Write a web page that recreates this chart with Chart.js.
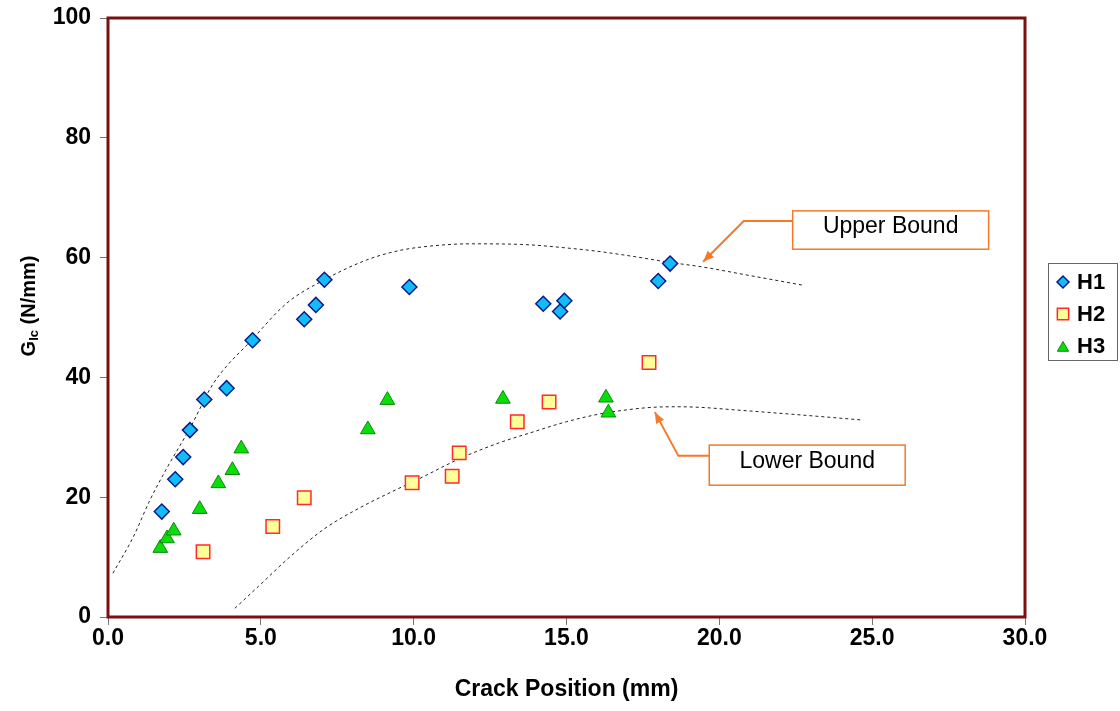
<!DOCTYPE html>
<html>
<head>
<meta charset="utf-8">
<script src="https://cdn.jsdelivr.net/npm/chart.js@4.4.1/dist/chart.umd.min.js"></script>
<style>
  html, body { margin: 0; padding: 0; background: #fff; }
  #wrap { width: 1120px; height: 711px; position: relative; }
</style>
</head>
<body>
<div id="wrap"><canvas id="glcChart"></canvas></div>
<script>
// measured values
const h1X = [1.76, 2.20, 2.46, 2.68, 3.15, 3.88, 4.73, 6.42, 6.80, 7.08, 9.86, 14.24, 14.79, 14.93, 18.0, 18.39];
const h1Y = [17.6, 23.0, 26.7, 31.2, 36.3, 38.2, 46.2, 49.7, 52.1, 56.3, 55.1, 52.3, 51.0, 52.8, 56.1, 59.0];

const h2X = [3.11, 5.39, 6.42, 9.95, 11.26, 11.49, 13.39, 14.43, 17.70];
const h2Y = [10.9, 15.1, 19.9, 22.4, 23.5, 27.4, 32.6, 35.9, 42.5];

const h3X = [1.71, 1.93, 2.15, 3.0, 3.61, 4.07, 4.36, 8.5, 9.14, 12.92, 16.29, 16.37];
const h3Y = [11.5, 13.1, 14.4, 18.0, 22.3, 24.5, 28.1, 31.3, 36.2, 36.4, 36.6, 34.1];

const upperX = [0.16, 0.83, 1.37, 1.92, 2.68, 3.45, 4.73, 5.85, 7.08, 8.46, 9.55, 10.7, 11.84, 13.5, 15.22, 16.1, 17.3, 18.38, 19.37, 21.0, 22.72];
const upperY = [7.3, 13.4, 19.5, 24.8, 31.5, 39.0, 46.4, 52.4, 56.3, 59.6, 61.2, 62.0, 62.3, 62.2, 61.5, 61.0, 60.1, 59.2, 58.5, 57.0, 55.4];

const lowerX = [4.15, 4.92, 6.01, 7.10, 8.19, 9.28, 10.15, 11.49, 12.7, 13.91, 15.0, 16.09, 17.0, 17.8, 18.6, 19.37, 20.45, 22.5, 24.65];
const lowerY = [1.45, 5.1, 10.3, 14.8, 18.1, 20.9, 23.0, 26.4, 28.9, 30.9, 32.6, 33.9, 34.6, 35.0, 35.1, 35.0, 34.6, 33.8, 32.9];

const xTicks = [0, 5, 10, 15, 20, 25, 30];
const yTicks = [0, 20, 40, 60, 80, 100];

function pts(xs, ys) {
  return xs.map((x, i) => ({ x: x, y: ys[i] }))
}

const FONT = '"Liberation Sans", Arial, sans-serif';

// frame, y title, callouts and legend
const extras = {
  id: 'extras',
  afterDraw(chart) {
    const ctx = chart.ctx;
    const a = chart.chartArea;
    const xs = chart.scales.x, ys = chart.scales.y;
    const px = v => xs.getPixelForValue(v);
    const py = v => ys.getPixelForValue(v);

    ctx.save();
    // plot frame
    ctx.strokeStyle = '#7a1010';
    ctx.lineWidth = 3;
    ctx.strokeRect(a.left, a.top, a.right - a.left, a.bottom - a.top);

    // y axis title with subscript
    ctx.translate(29, 306);
    ctx.rotate(-Math.PI / 2);
    ctx.fillStyle = '#000';
    ctx.textBaseline = 'middle';
    ctx.font = 'bold 20px ' + FONT;
    const gW = ctx.measureText('G').width;
    ctx.font = 'bold 13px ' + FONT;
    const subW = ctx.measureText('Ic').width;
    ctx.font = 'bold 20px ' + FONT;
    const restW = ctx.measureText(' (N/mm)').width;
    let sx = -(gW + subW + restW) / 2;
    ctx.textAlign = 'left';
    ctx.fillText('G', sx, 0);
    ctx.font = 'bold 13px ' + FONT;
    ctx.fillText('Ic', sx + gW, 5);
    ctx.font = 'bold 20px ' + FONT;
    ctx.fillText(' (N/mm)', sx + gW + subW, 0);
    ctx.setTransform(1, 0, 0, 1, 0, 0);

    // callouts (positions in data units)
    function callout(label, box, elbow, tip) {
      const l = px(box[0]), r = px(box[1]), t = py(box[2]), b = py(box[3]);
      ctx.fillStyle = '#fff';
      ctx.fillRect(l, t, r - l, b - t);
      ctx.strokeStyle = '#f47a2a';
      ctx.lineWidth = 1.5;
      ctx.strokeRect(l, t, r - l, b - t);
      ctx.fillStyle = '#000';
      ctx.font = '23px ' + FONT;
      ctx.textAlign = 'center';
      ctx.textBaseline = 'middle';
      ctx.fillText(label, (l + r) / 2, (t + b) / 2 - 3);

      const ex = px(elbow[0]), ey = py(elbow[1]);
      const tx = px(tip[0]), ty = py(tip[1]);
      ctx.strokeStyle = '#f47a2a';
      ctx.lineWidth = 2;
      ctx.beginPath();
      ctx.moveTo(l, ey);
      ctx.lineTo(ex, ey);
      ctx.lineTo(tx, ty);
      ctx.stroke();
      // arrow head
      const ang = Math.atan2(ty - ey, tx - ex);
      const hl = 11, hw = 4.5;
      ctx.fillStyle = '#f47a2a';
      ctx.beginPath();
      ctx.moveTo(tx, ty);
      ctx.lineTo(tx - hl * Math.cos(ang) + hw * Math.sin(ang), ty - hl * Math.sin(ang) - hw * Math.cos(ang));
      ctx.lineTo(tx - hl * Math.cos(ang) - hw * Math.sin(ang), ty - hl * Math.sin(ang) + hw * Math.cos(ang));
      ctx.closePath();
      ctx.fill();
    }
    callout('Upper Bound', [22.40, 28.81, 67.8, 61.4], [20.8, 66.1], [19.47, 59.3]);
    callout('Lower Bound', [19.67, 26.08, 28.7, 22.0], [18.66, 26.9], [17.89, 34.2]);

    // legend
    const lx = 1048, ly = 263, lw = 69, lh = 97;
    ctx.strokeStyle = '#666';
    ctx.lineWidth = 1;
    ctx.strokeRect(lx + 0.5, ly + 0.5, lw, lh);
    const items = chart.data.datasets.slice(0, 3);
    items.forEach((ds, i) => {
      const cy = ly + 19 + i * 32;
      const st = {
        pointStyle: ds.pointStyle,
        radius: ds.pointStyle === 'rect' ? 8 : (ds.pointStyle === 'triangle' ? 6.5 : 6),
        rotation: 0,
        borderWidth: ds.pointBorderWidth
      };
      ctx.fillStyle = ds.pointBackgroundColor;
      ctx.strokeStyle = ds.pointBorderColor;
      ctx.lineWidth = ds.pointBorderWidth;
      Chart.helpers.drawPoint(ctx, st, lx + 15, cy + (ds.pointStyle === 'triangle' ? 2 : 0));
      ctx.fillStyle = '#000';
      ctx.font = 'bold 22px ' + FONT;
      ctx.textAlign = 'left';
      ctx.textBaseline = 'middle';
      ctx.fillText(ds.label, lx + 29, cy + 1);
    });
    ctx.restore();
  }
};

const ctx = document.getElementById('glcChart').getContext('2d');
const glcChart = new Chart(ctx, {
  type: 'scatter',
  data: {
    datasets: [
      {
        label: 'H1',
        data: pts(h1X, h1Y),
        pointStyle: 'rectRot',
        pointRadius: 7.5,
        pointBackgroundColor: '#12bdf5',
        pointBorderColor: '#0a1a8c',
        pointBorderWidth: 1.5
      },
      {
        label: 'H2',
        data: pts(h2X, h2Y),
        pointStyle: 'rect',
        pointRadius: 9.5,
        pointBackgroundColor: '#ffff99',
        pointBorderColor: '#ff2a2a',
        pointBorderWidth: 1.5
      },
      {
        label: 'H3',
        data: pts(h3X, h3Y),
        pointStyle: 'triangle',
        pointRadius: 8.5,
        pointBackgroundColor: '#0add0a',
        pointBorderColor: '#0a8a0a',
        pointBorderWidth: 1
      },
      {
        label: 'Upper Bound',
        data: pts(upperX, upperY),
        showLine: true,
        pointRadius: 0,
        borderColor: '#222',
        borderWidth: 1,
        borderDash: [3, 3],
        cubicInterpolationMode: 'monotone',
        order: 5
      },
      {
        label: 'Lower Bound',
        data: pts(lowerX, lowerY),
        showLine: true,
        pointRadius: 0,
        borderColor: '#222',
        borderWidth: 1,
        borderDash: [3, 3],
        cubicInterpolationMode: 'monotone',
        order: 5
      }
    ]
  },
  options: {
    animation: false,
    responsive: true,
    maintainAspectRatio: false,
    layout: { padding: { top: 18, right: 95, left: 0, bottom: 0 } },
    plugins: {
      legend: { display: false },
      tooltip: { enabled: false }
    },
    scales: {
      x: {
        type: 'linear',
        min: 0,
        max: 30,
        afterBuildTicks: s => { s.ticks = xTicks.map(v => ({ value: v })) },
        afterFit: s => {
          s.height = 94
          s.paddingLeft = 0
          s.paddingRight = 0
        },
        ticks: {
          callback: v => v.toFixed(1),
          color: '#000',
          padding: 0,
          maxRotation: 0,
          font: { family: FONT, size: 23, weight: 'bold' }
        },
        grid: { drawOnChartArea: false, drawTicks: true, tickLength: 8, color: '#777' },
        border: { display: false },
        title: {
          display: true,
          text: 'Crack Position (mm)',
          color: '#000',
          font: { family: FONT, size: 23, weight: 'bold' },
          padding: { top: 4, bottom: 8 }
        }
      },
      y: {
        type: 'linear',
        min: 0,
        max: 100,
        afterBuildTicks: s => { s.ticks = yTicks.map(v => ({ value: v })) },
        afterFit: s => {
          s.width = 108
          s.paddingTop = 0
          s.paddingBottom = 0
        },
        ticks: {
          color: '#000',
          padding: 9,
          font: { family: FONT, size: 23, weight: 'bold' }
        },
        grid: { drawOnChartArea: false, drawTicks: true, tickLength: 8, color: '#777' },
        border: { display: false }
      }
    }
  },
  plugins: [extras]
});
</script>
</body>
</html>
